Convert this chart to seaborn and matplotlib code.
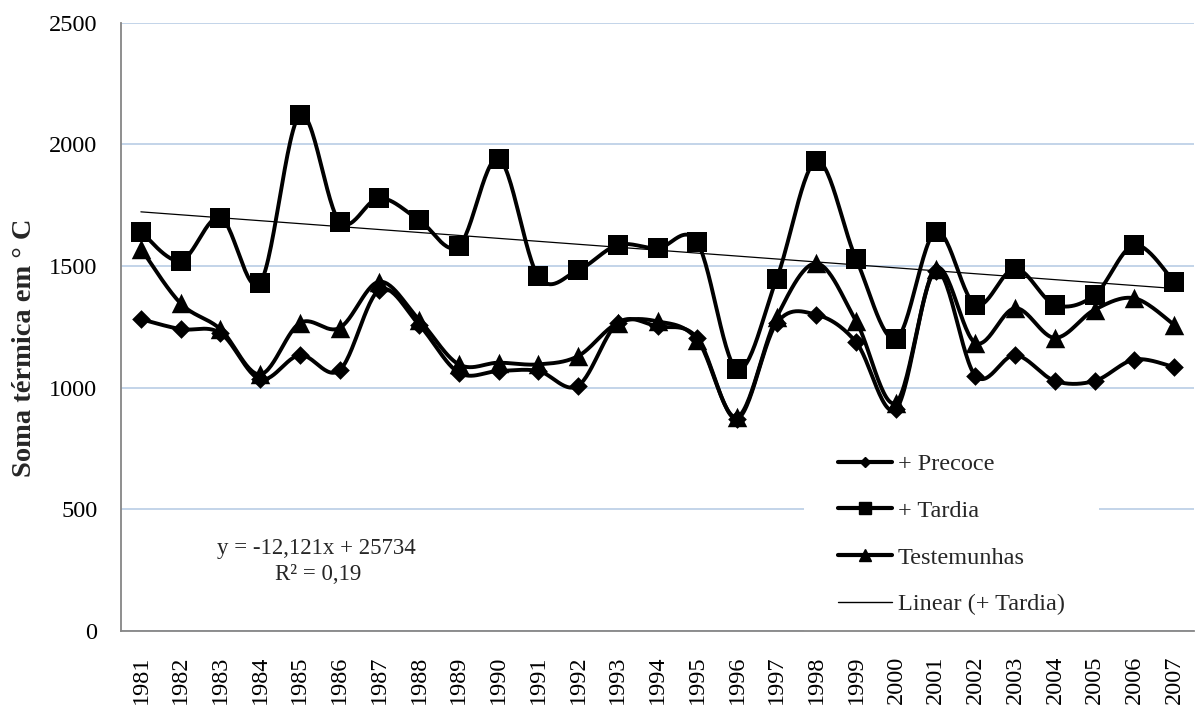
import numpy as np
import pandas as pd
import seaborn as sns
import matplotlib.pyplot as plt
from matplotlib.lines import Line2D

anos = [1981, 1982, 1983, 1984, 1985, 1986, 1987, 1988, 1989, 1990, 1991, 1992, 1993, 1994,
        1995, 1996, 1997, 1998, 1999, 2000, 2001, 2002, 2003, 2004, 2005, 2006, 2007]
precoce = [1281, 1240, 1224, 1034, 1133, 1071, 1401, 1258, 1061, 1068, 1068, 1007, 1265, 1251,
           1204, 871, 1265, 1299, 1186, 911, 1480, 1048, 1133, 1027, 1027, 1115, 1084]
tardia = [1641, 1521, 1699, 1430, 2120, 1682, 1779, 1689, 1581, 1941, 1457, 1482, 1586, 1572,
          1597, 1075, 1448, 1931, 1527, 1200, 1641, 1340, 1489, 1340, 1380, 1586, 1435]
testemunhas = [1571, 1346, 1240, 1054, 1265, 1245, 1435, 1279, 1095, 1102, 1095, 1129, 1265, 1272,
               1197, 878, 1290, 1510, 1272, 938, 1489, 1183, 1326, 1204, 1320, 1367, 1258]

# linha de tendencia do Excel (+ Tardia)
coef_a = -12.121
coef_b = 25734
eq_texto = "y = -12,121x + 25734"
r2_texto = "R² = 0,19"

series = ["+ Precoce", "+ Tardia", "Testemunhas"]
valores = [precoce, tardia, testemunhas]
marcadores = ["D", "s", "^"]
tam_marc = [9.5, 14, 14]
tam_leg = [5.5, 8.5, 8.5]


def suaviza(x, y, n=30):
    # curva suavizada como a do Excel (bezier tipo catmull-rom)
    x = np.asarray(x, float)
    y = np.asarray(y, float)
    px = np.concatenate([[x[0]], x, [x[-1]]])
    py = np.concatenate([[y[0]], y, [y[-1]]])
    xs, ys = [], []
    t = np.linspace(0, 1, n)
    for i in range(1, len(px) - 2):
        p0 = np.array([px[i], py[i]])
        p3 = np.array([px[i + 1], py[i + 1]])
        c1 = p0 + (np.array([px[i + 1], py[i + 1]]) - np.array([px[i - 1], py[i - 1]])) / 6
        c2 = p3 - (np.array([px[i + 2], py[i + 2]]) - np.array([px[i], py[i]])) / 6
        pts = (((1 - t) ** 3)[:, None] * p0 + (3 * (1 - t) ** 2 * t)[:, None] * c1
               + (3 * (1 - t) * t ** 2)[:, None] * c2 + (t ** 3)[:, None] * p3)
        xs.extend(pts[:, 0])
        ys.extend(pts[:, 1])
    return xs, ys


sns.set_style("white")
plt.rcParams["font.family"] = ["Liberation Serif", "DejaVu Serif"]

fig = plt.figure(figsize=(11.95, 7.09), dpi=100)
ax = fig.add_axes([121 / 1195, (709 - 630.7) / 709, (1194 - 121) / 1195, (630.7 - 22.7) / 709])

linhas = []
for nome, vals in zip(series, valores):
    xs, ys = suaviza(anos, vals)
    linhas.append(pd.DataFrame({"ano": xs, "valor": ys, "serie": nome}))
df_linhas = pd.concat(linhas, ignore_index=True)

pontos = pd.DataFrame({"ano": anos * 3,
                       "valor": precoce + tardia + testemunhas,
                       "serie": [s for s in series for _ in anos]})

for nome, mk, ms in zip(series, marcadores, tam_marc):
    sns.lineplot(data=df_linhas[df_linhas["serie"] == nome], x="ano", y="valor",
                 color="black", linewidth=2.8, sort=False, estimator=None, ax=ax, legend=False)
    sns.scatterplot(data=pontos[pontos["serie"] == nome], x="ano", y="valor", marker=mk,
                    s=ms ** 2, color="black", linewidth=0, ax=ax, legend=False, zorder=3)

tendencia = [coef_a * a + coef_b for a in anos]
sns.lineplot(x=anos, y=tendencia, color="black", linewidth=0.9, ax=ax, legend=False, zorder=4)

ax.set_xlim(1980.5, 2007.5)
ax.set_ylim(0, 2500)
ax.set_yticks([0, 500, 1000, 1500, 2000, 2500])
ax.set_xticks(anos)
ax.set_xticklabels([str(a) for a in anos], rotation=90)
ax.tick_params(axis="both", length=0, labelsize=17.5, colors="black")
ax.tick_params(axis="y", pad=17)
ax.tick_params(axis="x", pad=18)
ax.grid(axis="y", color="#B9CDE5", linewidth=1.2)
ax.grid(axis="x", visible=False)
ax.set_axisbelow(True)
for lado in ["top", "right"]:
    ax.spines[lado].set_visible(False)
for lado in ["left", "bottom"]:
    ax.spines[lado].set_color("#868686")
    ax.spines[lado].set_linewidth(1.3)

ax.set_xlabel("")
ax.set_ylabel("Soma térmica em ° C", fontsize=20.5, fontweight="bold")
ax.yaxis.set_label_coords(-0.078, 0.465)

ax.text(0.1817, 0.136, eq_texto, transform=ax.transAxes, ha="center", va="center", fontsize=16.5)
ax.text(0.1836, 0.093, r2_texto, transform=ax.transAxes, ha="center", va="center", fontsize=16.5)

handles = [Line2D([], [], color="black", linewidth=3, marker=mk, markersize=ms)
           for mk, ms in zip(marcadores, tam_leg)]
handles.append(Line2D([], [], color="black", linewidth=1))
rotulos = series + ["Linear (+ Tardia)"]
leg = ax.legend(handles, rotulos, loc="upper left", bbox_to_anchor=(0.673, 0.409),
                bbox_transform=fig.transFigure, fontsize=17.5, frameon=True,
                facecolor="white", edgecolor="none", framealpha=1, fancybox=False,
                borderpad=1.4, borderaxespad=0, handlelength=2.2, handletextpad=0.25,
                labelspacing=1.02)
# legenda abaixo dos eixos para nao esconder a linha do eixo x
leg.set_zorder(2.4)

fig.savefig("out.png", dpi=100)
